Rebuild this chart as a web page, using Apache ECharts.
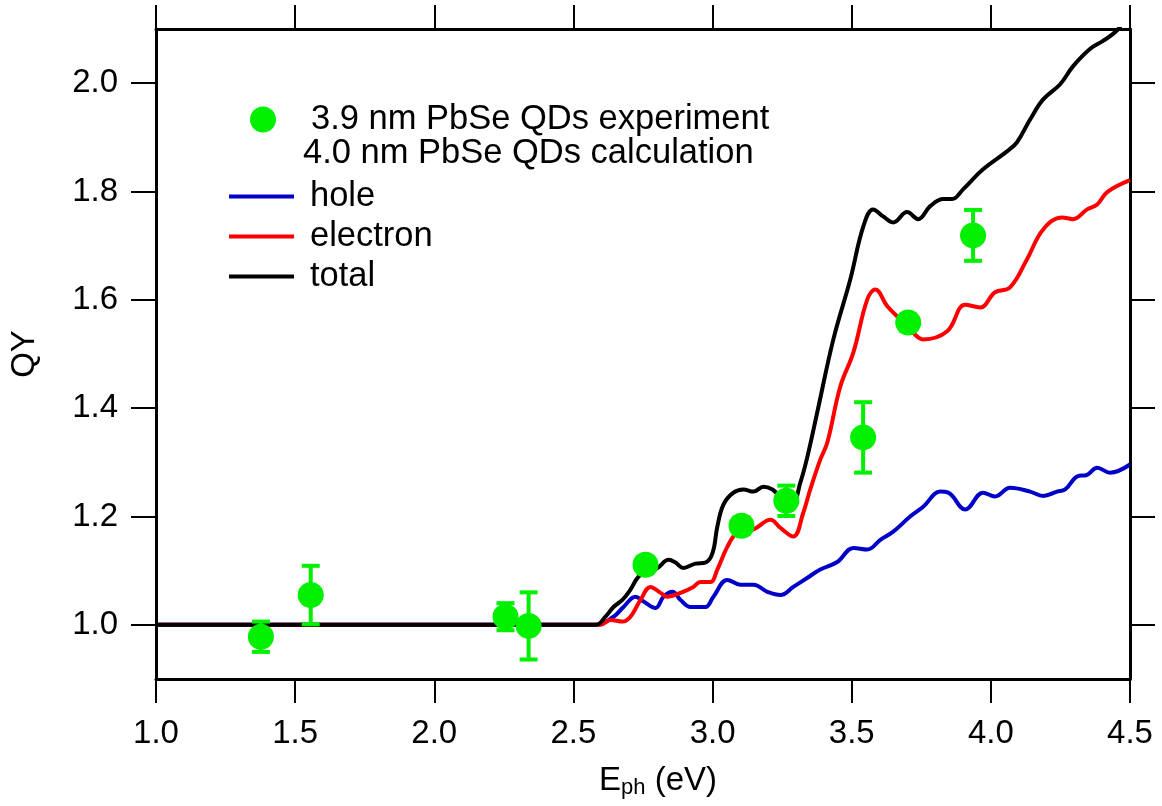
<!DOCTYPE html>
<html>
<head>
<meta charset="utf-8">
<script src="https://cdn.jsdelivr.net/npm/echarts@6/dist/echarts.min.js"></script>
<style>
  html, body { margin: 0; padding: 0; background: #fff; }
  #main { width: 1162px; height: 806px; }
</style>
</head>
<body>
<div id="main"></div>
<script>
// experiment: photon energy (eV), QY, error
var expX = [1.377, 1.556, 2.256, 2.339, 2.759, 3.104, 3.265, 3.541, 3.703, 3.936];
var expY = [0.978, 1.055, 1.015, 0.998, 1.111, 1.183, 1.229, 1.346, 1.558, 1.719];
var expErr = [0.028, 0.054, 0.025, 0.062, 0.015, 0.015, 0.028, 0.065, 0.015, 0.047];

// calculation curves [E, QY]
var holeCurve = [
  [1.0, 1.0], [2.58, 1.0], [2.644, 1.015], [2.680, 1.033], [2.723, 1.052], [2.752, 1.043],
  [2.795, 1.031], [2.824, 1.052], [2.856, 1.061], [2.885, 1.046], [2.921, 1.033],
  [2.974, 1.033], [3.003, 1.052], [3.053, 1.083], [3.100, 1.074], [3.147, 1.074],
  [3.197, 1.061], [3.244, 1.055], [3.290, 1.070], [3.341, 1.087], [3.387, 1.102],
  [3.448, 1.116], [3.506, 1.142], [3.556, 1.139], [3.603, 1.157], [3.649, 1.172],
  [3.710, 1.200], [3.757, 1.218], [3.818, 1.246], [3.847, 1.244], [3.908, 1.213],
  [3.972, 1.244], [4.015, 1.237], [4.069, 1.253], [4.141, 1.246], [4.188, 1.238],
  [4.238, 1.246], [4.267, 1.250], [4.310, 1.274], [4.346, 1.277], [4.382, 1.290],
  [4.428, 1.281], [4.5, 1.296]
];
var electronCurve = [
  [1.0, 1.0], [2.597, 1.0], [2.633, 1.009], [2.676, 1.006], [2.705, 1.015], [2.741, 1.046],
  [2.777, 1.070], [2.813, 1.059], [2.838, 1.052], [2.885, 1.059], [2.931, 1.070],
  [2.956, 1.079], [2.992, 1.079], [3.017, 1.102], [3.053, 1.144], [3.089, 1.170],
  [3.147, 1.176], [3.208, 1.194], [3.244, 1.179], [3.290, 1.163], [3.326, 1.207],
  [3.351, 1.250], [3.387, 1.305], [3.412, 1.336], [3.459, 1.440], [3.506, 1.503],
  [3.556, 1.601], [3.585, 1.619], [3.628, 1.588], [3.674, 1.564], [3.710, 1.545],
  [3.757, 1.527], [3.843, 1.542], [3.908, 1.591], [3.962, 1.586], [4.015, 1.614],
  [4.069, 1.623], [4.130, 1.675], [4.188, 1.730], [4.256, 1.752], [4.295, 1.749],
  [4.346, 1.767], [4.382, 1.776], [4.418, 1.799], [4.5, 1.821]
];
var totalCurve = [
  [1.0, 1.0], [2.58, 1.0], [2.615, 1.015], [2.644, 1.033], [2.676, 1.046], [2.705, 1.065],
  [2.734, 1.089], [2.766, 1.098], [2.802, 1.105], [2.842, 1.120], [2.867, 1.115],
  [2.895, 1.105], [2.938, 1.113], [2.974, 1.115], [3.000, 1.133], [3.017, 1.181],
  [3.039, 1.222], [3.075, 1.244], [3.111, 1.250], [3.147, 1.246], [3.183, 1.255],
  [3.215, 1.250], [3.244, 1.237], [3.290, 1.231], [3.315, 1.262], [3.341, 1.311],
  [3.376, 1.392], [3.434, 1.527], [3.495, 1.638], [3.542, 1.736], [3.577, 1.767],
  [3.613, 1.754], [3.649, 1.743], [3.699, 1.762], [3.739, 1.749], [3.782, 1.773],
  [3.829, 1.786], [3.861, 1.786], [3.900, 1.804], [3.972, 1.841], [4.058, 1.874],
  [4.094, 1.891], [4.141, 1.933], [4.188, 1.970], [4.249, 1.998], [4.295, 2.031],
  [4.356, 2.063], [4.403, 2.078], [4.439, 2.091], [4.464, 2.104], [4.5, 2.14]
];

var yTicks = [1.0, 1.2, 1.4, 1.6, 1.8, 2.0];

var green = '#00f000';
var font = 'Liberation Sans, Arial, sans-serif';

var expData = expX.map(function (x, i) { return [x, expY[i]]; });
var errData = expX.map(function (x, i) { return [x, expY[i], expErr[i]]; });

var myChart = echarts.init(document.getElementById('main'));

var tickStyle = { color: '#000', width: 2 };
var lineStyleAxis = { color: '#000', width: 3 };

option = {
  animation: false,
  backgroundColor: '#fff',
  textStyle: { fontFamily: font },
  grid: { left: 155, right: 32, top: 29, bottom: 127 },
  legend: [
    {
      left: 245, top: 97, orient: 'vertical',
      data: ['3.9 nm PbSe QDs experiment'],
      itemWidth: 26, itemHeight: 26,
      textStyle: { fontSize: 34.5, color: '#000', padding: [0, 0, 0, 30] }
    },
    {
      left: 224, top: 174, orient: 'vertical',
      data: ['hole', 'electron', 'total'],
      icon: 'rect', itemWidth: 65, itemHeight: 4, itemGap: 5,
      textStyle: { fontSize: 34.5, color: '#000', lineHeight: 34, padding: [0, 0, 0, 11] }
    }
  ],
  graphic: [{
    type: 'text', left: 303, top: 136,
    style: { text: '4.0 nm PbSe QDs calculation', fontSize: 34.5, fill: '#000', fontFamily: font }
  }],
  xAxis: [
    {
      type: 'value', min: 1, max: 4.5, interval: 0.5, position: 'bottom',
      name: '{e|E}{s|ph}{e| (eV)}', nameLocation: 'middle', nameGap: 84,
      nameTextStyle: {
        padding: [0, 0, 0, 30],
        rich: {
          e: { fontSize: 33, color: '#000', fontFamily: font },
          s: { fontSize: 22, color: '#000', fontFamily: font, verticalAlign: 'bottom', padding: [14, 0, 0, 0] }
        }
      },
      axisLine: { lineStyle: lineStyleAxis },
      axisTick: { inside: false, length: 24, lineStyle: tickStyle },
      axisLabel: { fontSize: 33, color: '#000', margin: 38, formatter: function (v) { return v.toFixed(1); } },
      splitLine: { show: false }
    },
    {
      type: 'value', min: 1, max: 4.5, interval: 0.5, position: 'top',
      axisLine: { lineStyle: lineStyleAxis },
      axisTick: { inside: false, length: 24, lineStyle: tickStyle },
      axisLabel: { show: false },
      splitLine: { show: false }
    }
  ],
  yAxis: [
    {
      type: 'value', min: 0.9, max: 2.1, position: 'left',
      name: 'QY', nameLocation: 'middle', nameGap: 115, nameRotate: 90,
      nameTextStyle: { fontSize: 33, color: '#000' },
      axisLine: { lineStyle: lineStyleAxis },
      axisTick: { inside: false, length: 25, lineStyle: tickStyle, customValues: yTicks },
      axisLabel: { fontSize: 33, color: '#000', margin: 38, customValues: yTicks,
        formatter: function (v) { return Number(v).toFixed(1); } },
      splitLine: { show: false }
    },
    {
      type: 'value', min: 0.9, max: 2.1, position: 'right',
      axisLine: { lineStyle: lineStyleAxis },
      axisTick: { inside: false, length: 25, lineStyle: tickStyle, customValues: yTicks },
      axisLabel: { show: false },
      splitLine: { show: false }
    }
  ],
  series: [
    {
      name: 'hole', type: 'line', data: holeCurve, showSymbol: false, symbol: 'none',
      smooth: 0.4, clip: true,
      lineStyle: { color: '#0000c8', width: 4 }, itemStyle: { color: '#0000c8' }, z: 2
    },
    {
      name: 'electron', type: 'line', data: electronCurve, showSymbol: false, symbol: 'none',
      smooth: 0.4, clip: true,
      lineStyle: { color: '#ff0000', width: 4 }, itemStyle: { color: '#ff0000' }, z: 3
    },
    {
      name: 'total', type: 'line', data: totalCurve, showSymbol: false, symbol: 'none',
      smooth: 0.4, clip: true,
      lineStyle: { color: '#000000', width: 4 }, itemStyle: { color: '#000000' }, z: 4
    },
    {
      name: 'error', type: 'custom', data: errData, z: 5,
      encode: { x: 0, y: 1 },
      renderItem: function (params, api) {
        var x = api.value(0), y = api.value(1), e = api.value(2);
        var top = api.coord([x, y + e]);
        var bot = api.coord([x, y - e]);
        var hw = 9;
        var st = { stroke: green, lineWidth: 4 };
        return {
          type: 'group',
          children: [
            { type: 'line', shape: { x1: top[0], y1: top[1], x2: bot[0], y2: bot[1] }, style: st },
            { type: 'line', shape: { x1: top[0] - hw, y1: top[1], x2: top[0] + hw, y2: top[1] }, style: st },
            { type: 'line', shape: { x1: bot[0] - hw, y1: bot[1], x2: bot[0] + hw, y2: bot[1] }, style: st }
          ]
        };
      }
    },
    {
      name: '3.9 nm PbSe QDs experiment', type: 'scatter', data: expData,
      symbol: 'circle', symbolSize: 26, itemStyle: { color: green, opacity: 1 }, z: 6
    }
  ]
};

if (option && typeof option === 'object') {
  myChart.setOption(option, true);
}
</script>
</body>
</html>
